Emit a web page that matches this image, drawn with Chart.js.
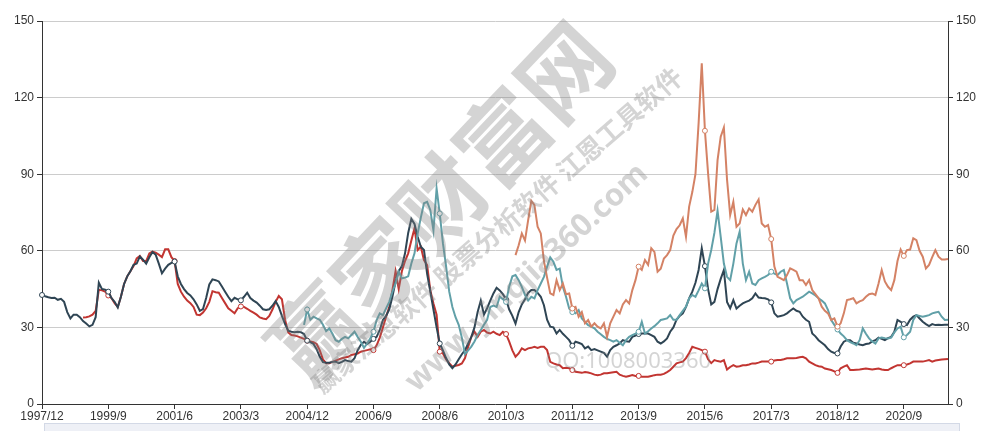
<!DOCTYPE html>
<html>
<head>
<meta charset="utf-8">
<title>PE chart</title>
<script src="https://cdn.jsdelivr.net/npm/chart.js"></script>
<style>
html,body{margin:0;padding:0;background:#fff}
#chart{display:block}
</style>
</head>
<body>
<canvas id="chart" width="982" height="431"></canvas>
<script>
// monthly categories 1997/12 .. 2021/11
const months = [];
for (let y = 1997, m = 12; months.length < 288; ) {
  months.push(y + '/' + m);
  m++; if (m > 12) { m = 1; y++; }
}
const labelEvery = 21;

// dark navy series, from 1997/12
const navyValues = [
  42.7, 42.2, 41.8, 41.5, 41.6, 40.8, 41.2, 40, 36, 33.5,
  35, 35, 34, 32.5, 31.5, 30.4, 31, 34, 47.5, 45,
  44.8, 44, 41.5, 40, 37.8, 42, 47, 50, 52, 54.5,
  55, 57.8, 56.5, 55, 57.5, 59.5, 58.5, 55, 51.2, 53,
  54.5, 55.3, 55.8, 50, 47, 45, 43.5, 42.5, 41, 39,
  36.5, 37.2, 41.5, 46.8, 48.8, 48.5, 48, 46, 44, 42,
  40.3, 41.6, 41, 40.6, 42, 43.6, 41.5, 40.5, 39.7, 38.5,
  37.1, 36.8, 37.1, 38.5, 40.3, 38, 34.5, 31.3, 28.7, 28.3,
  28.1, 28.3, 28.1, 27.4, 24.8, 24.2, 23.5, 21.5, 18.5, 16.4,
  16.2, 16.2, 16.5, 16.6, 16, 16.5, 17.2, 16.8, 16.6, 17.9,
  21.1, 23.2, 24.4, 23.5, 24.4, 25.5, 26.3, 29, 32.9, 34.5,
  37, 42, 48, 52, 54, 59, 67, 72.5, 70.5, 65.5,
  61.6, 60.3, 51, 44, 37, 30, 23.7, 21, 18, 15.5,
  14, 15.5, 17.5, 19.5, 21.1, 23.7, 26.3, 30, 36, 40.5,
  35, 37.5, 40.5, 43.3, 45.5, 44.5, 43, 41, 37, 34.5,
  31.5, 36, 39, 41, 43.5, 44.6, 44.6, 43.5, 42, 38.7,
  33, 30.3, 30, 27.6, 29, 27.5, 26.3, 25, 22.8, 24.4,
  24, 23.5, 21.8, 22.5, 21.1, 21.5, 21, 20.5, 20, 18.5,
  21.1, 22.4, 23, 23.7, 25, 24.6, 24.4, 26.3, 26.8, 27.4,
  27.6, 27.6, 27.6, 27, 26.3, 24.4, 23.7, 24.5, 25.7, 28.3,
  30, 33, 34.5, 35.5, 38, 41.4, 44, 47.5, 52.5, 61,
  54, 45, 39, 40, 45, 49, 52.5, 40, 37.5, 40.7,
  37.4, 38.5, 39.4, 40, 40.5, 41.4, 43.3, 41.7, 41.5, 41.4,
  41, 39.8, 35.5, 34.2, 34.5, 34.8, 35.5, 36.5, 37.4, 36.5,
  36.1, 34.2, 33, 32.2, 27.6, 26.5, 25, 24, 23, 21.5,
  20.5, 20, 19.8, 22.5, 24.4, 25, 25, 24, 23.7, 23.3,
  23, 23.5, 23.7, 24.5, 25, 26, 25.5, 25, 25.8, 26.3,
  28.3, 32.9, 32.2, 31.3, 30.9, 33, 34.2, 34.8, 33.5, 32.2,
  31.3, 30.5, 31.3, 30.9, 31, 30.9, 31, 31
];

// red series, from 1999/1
const redStart = '1999/1';
const redValues = [
  33.9, 34, 34.3, 35, 36.5, 44.7, 44.5,
  44, 42.5, 41.5, 39.5, 38, 42, 47, 50, 52, 54,
  57, 58, 56, 56, 59, 59.7, 59.3, 58.5, 57.5, 60.6,
  60.6, 57.5, 56, 47, 44, 42, 40.5, 39.5, 38, 35,
  34.8, 35.8, 37.5, 40, 44.2, 43.8, 43.6, 41.5, 39.5, 37.5,
  36.5, 35.5, 37.5, 38.2, 38, 37.3, 36.5, 35.8, 35, 33.9,
  33.5, 33.2, 34.5, 37, 40, 42.3, 41, 33, 28, 27,
  26.8, 26.5, 26, 25.5, 24.8, 24.5, 24.2, 23.5, 21, 17.5,
  16, 16, 16.5, 17, 17.5, 17.9, 18.2, 18.5, 19.2, 19.5,
  19.8, 20.5, 20.8, 21.1, 21.4, 21.1, 23, 26, 30, 34.2,
  38.1, 44.6, 52, 45, 52, 56, 59, 64, 68.8, 60.3,
  61.6, 56.4, 54.4, 44.6, 39.4, 35, 20.5, 19.8, 17.5, 16,
  14.6, 15, 15.3, 15.9, 18, 22.4, 26.3, 28.3, 26.3, 28.3,
  29, 28, 27.6, 28.3, 27.5, 27, 28.3, 27.4, 24.4, 21,
  18.5, 19.8, 21.8, 21.1, 21.8, 22, 22.4, 22, 22.4, 22.4,
  21.1, 16.5, 15.9, 15.5, 15.2, 14, 14.2, 14, 13.3, 12.6,
  12.4, 12.2, 12.5, 12.3, 12, 11.5, 11.3, 11.5, 12, 12,
  12.2, 12.4, 12.6, 11.5, 11, 10.7, 11, 11.3, 11, 11,
  10.7, 10.7, 10.7, 11, 11.3, 11.5, 11.5, 11.8, 12.5, 13.3,
  14.6, 15.9, 16.3, 16.6, 18, 20, 22.4, 22, 21.6, 21.1,
  20.5, 17.5, 16, 17.2, 16.8, 16.6, 17.2, 13.5, 14.5, 15.2,
  14.6, 14.8, 15.2, 15.2, 15.5, 15.9, 15.9, 16.2, 16.6, 16.6,
  16.6, 16.6, 17, 17.2, 17.2, 17.5, 17.9, 17.9, 17.9, 18,
  18.3, 18.5, 17.9, 16.6, 15.9, 15.2, 14.8, 14.6, 13.9, 13.6,
  13.3, 12.8, 12.2, 14, 14.6, 15.2, 13.3, 13.3, 13.4, 13.5,
  13.7, 13.9, 13.7, 13.5, 13.7, 13.9, 13.5, 13.3, 13.3, 14,
  14.6, 15.2, 15.2, 15.2, 15.5, 15.9, 16.6, 16.6, 16.6, 16.6,
  16.9, 17.2, 16.6, 17, 17.2, 17.4, 17.5, 17.6
];

// teal series, from 2004/11
const tealStart = '2004/11';
const tealValues = [
  31, 37, 33, 34.2, 33.5, 33, 31,
  28.5, 29.6, 27.5, 25, 24.4, 25.5, 26.3, 25.7, 27, 28.3,
  26.3, 24.4, 22, 23.7, 25.7, 28.3, 32.9, 35.5, 34.8, 37.4,
  40, 44, 47.2, 51.8, 49.2, 49.5, 50, 55, 59, 66.8,
  73, 78.6, 79.2, 76, 68, 84.4, 74.6, 63, 54, 44,
  38, 34, 31, 26, 19.5, 21, 22.5, 24.5, 27, 29,
  31, 33, 38, 38.5, 38, 42, 41, 40, 46, 50,
  50.5, 48.5, 45.9, 42.7, 40.5, 42, 41.4, 44.6, 47.2, 49.8,
  53.8, 57.4, 55.7, 52.5, 53, 45.9, 42, 37.4, 36, 35.5,
  36.8, 33.5, 32.2, 30.9, 30.3, 29.6, 28.3, 27.3, 26.3, 25.5,
  25, 24.4, 25, 24, 23, 25, 26.3, 27, 27.6, 28.3,
  32.2, 27.6, 28.5, 29.6, 30.5, 31.6, 32.9, 33.2, 33.5, 34.8,
  33, 33, 34.8, 36.5, 38.1, 41.4, 42.7, 42, 44.5, 47.2,
  45.3, 55, 60.3, 67, 75.7, 65.5, 55, 49.8, 48.5, 55,
  62.9, 67.5, 55, 48.5, 51.8, 47.2, 46.6, 48.5, 49.2, 49.8,
  50.5, 51.8, 51.1, 50.5, 51.8, 52.5, 47.2, 41.4, 39.4, 40.7,
  41.4, 42, 43, 44, 43.3, 42.5, 41.4, 40.5, 39.4, 36.8,
  32.9, 31, 29.2, 27.6, 26.5, 25, 24.2, 23.7, 23, 25,
  29.6, 27.5, 25.7, 24.5, 23.7, 25.7, 26, 25.8, 25.7, 26,
  28, 29.6, 30.3, 26.1, 27, 28.3, 32.9, 34.8, 34.5, 34.2,
  34.5, 34.8, 35.5, 35.8, 36.1, 34.2, 32.9, 33
];

// orange series, from 2010/6
const orangeStart = '2010/6';
const orangeValues = [
  58.3, 62.2, 66.8, 64, 72, 79.6, 77.9, 69.4, 66.8, 56,
  49.5, 43.3, 42.7, 48.5, 44.6, 47.2, 43, 43.3, 37.4, 38,
  34.2, 36, 31.6, 32.9, 30.3, 31.6, 30.3, 29.6, 31.6, 26.3,
  31.6, 34.2, 36.8, 35.5, 39, 40.7, 39.4, 44.6, 48.5, 53.8,
  52.5, 56.4, 54.5, 61, 59.6, 51.8, 53, 57, 58.3, 60.3,
  66, 68.5, 70, 72.7, 65.5, 77.3, 83, 90, 110, 133.4,
  107, 90.3, 75.3, 76, 95.5, 104.7, 108.3, 88, 74, 79.2,
  69.4, 70.7, 76.2, 74, 76.6, 75.3, 78, 80.1, 70.7, 69.4,
  70.1, 64.6, 53.8, 49.8, 49.2, 48.5, 50.5, 53.1, 52.5, 51.8,
  48.5, 48.5, 46.6, 48.5, 44.6, 43, 41.4, 38.1, 36.5, 35.5,
  32.9, 33.5, 30.3, 31.6, 35.5, 40.7, 41, 41.4, 39.4, 40.2,
  40.7, 42, 43, 43.3, 42.7, 47.2, 52.5, 48, 45.9, 44.6,
  48.5, 56, 60.5, 58, 60.3, 60.5, 64.9, 64.2, 60, 57.7,
  53.1, 54.5, 57.5, 60.3, 57.7, 56.6, 56.6, 56.8
];

const yTicks = [0, 30, 60, 90, 120, 150];
const watermarkTexts = ['赢家财富网', '赢家江恩软件 股票分析软件 江恩工具软件', 'www.yingjia360.com', 'QQ:1008003360'];

function alignTo(start, values) {
  const s = months.indexOf(start);
  return months.map((m, i) => (i < s || i - s >= values.length) ? null : values[i - s]);
}

function series(label, data, color, order) {
  return {
    label, data, order,
    borderColor: color,
    borderWidth: 2,
    pointRadius: c => c.dataIndex % labelEvery === 0 ? 2.5 : 0,
    pointBackgroundColor: '#fff',
    pointBorderColor: color,
    pointBorderWidth: 1,
    tension: 0,
    fill: false,
    spanGaps: false
  };
}

const font = { family: 'Liberation Sans', size: 12 };

const decor = {
  id: 'decor',
  beforeDraw(chart) {
    const c = chart.ctx;
    c.save();
    c.fillStyle = '#fff';
    c.fillRect(0, 0, chart.width, chart.height);
    c.fillStyle = '#eef0f6';
    c.strokeStyle = '#d3d9e6';
    c.fillRect(44, 423, 916, 10);
    c.strokeRect(44.5, 423.5, 915, 10);
    c.restore();
  },
  afterDatasetsDraw(chart) {
    const c = chart.ctx;
    c.save();
    c.fillStyle = 'rgba(128,128,128,0.34)';
    c.textAlign = 'center';
    c.textBaseline = 'middle';
    const rot = (txt, x, y, deg, f) => {
      c.save();
      c.translate(x, y);
      c.rotate(deg * Math.PI / 180);
      c.font = f;
      c.fillText(txt, 0, 0);
      c.restore();
    };
    rot(watermarkTexts[0], 440, 202, -46.5, 'bold 90px "Noto Sans CJK SC"');
    rot(watermarkTexts[1], 497, 230, -41, 'bold 26px "Noto Sans CJK SC"');
    rot(watermarkTexts[2], 527, 278, -43, 'bold 31px "Noto Sans"');
    rot(watermarkTexts[3], 628, 362, 0, '22px "Noto Sans"');
    c.restore();
  }
};

new Chart(document.getElementById('chart'), {
  type: 'line',
  data: {
    labels: months,
    datasets: [
      series('red', alignTo(redStart, redValues), '#c23531', 3),
      series('navy', navyValues, '#2f4554', 2),
      series('teal', alignTo(tealStart, tealValues), '#61a0a8', 1),
      series('orange', alignTo(orangeStart, orangeValues), '#d48265', 0)
    ]
  },
  options: {
    responsive: false,
    animation: false,
    devicePixelRatio: 1,
    layout: { padding: { top: 21, left: 0, right: 0, bottom: 0 } },
    plugins: { legend: { display: false }, tooltip: { enabled: false } },
    scales: {
      x: {
        type: 'category',
        offset: false,
        border: { color: '#333', width: 1 },
        grid: {
          drawOnChartArea: false,
          drawTicks: true,
          tickLength: 5,
          color: c => (c.index % labelEvery === 0 ? '#333' : 'rgba(0,0,0,0)')
        },
        ticks: {
          autoSkip: false, maxRotation: 0, minRotation: 0, padding: 0,
          color: '#333', font,
          callback: (v, i) => (i % labelEvery === 0 ? months[i] : '')
        },
        afterFit: s => { s.height = 27; }
      },
      y: {
        position: 'left', min: 0, max: 150,
        afterBuildTicks: s => { s.ticks = yTicks.map(v => ({ value: v })); },
        border: { color: '#333' },
        grid: { color: '#ccc', tickColor: '#333', tickLength: 5 },
        ticks: { padding: 3, color: '#333', font },
        afterFit: s => { s.width = 42; }
      },
      y2: {
        position: 'right', min: 0, max: 150,
        afterBuildTicks: s => { s.ticks = yTicks.map(v => ({ value: v })); },
        border: { color: '#333' },
        grid: { drawOnChartArea: false, tickColor: '#333', tickLength: 5 },
        ticks: { padding: 3, color: '#333', font },
        afterFit: s => { s.width = 34; }
      }
    }
  },
  plugins: [decor]
});
</script>
</body>
</html>
